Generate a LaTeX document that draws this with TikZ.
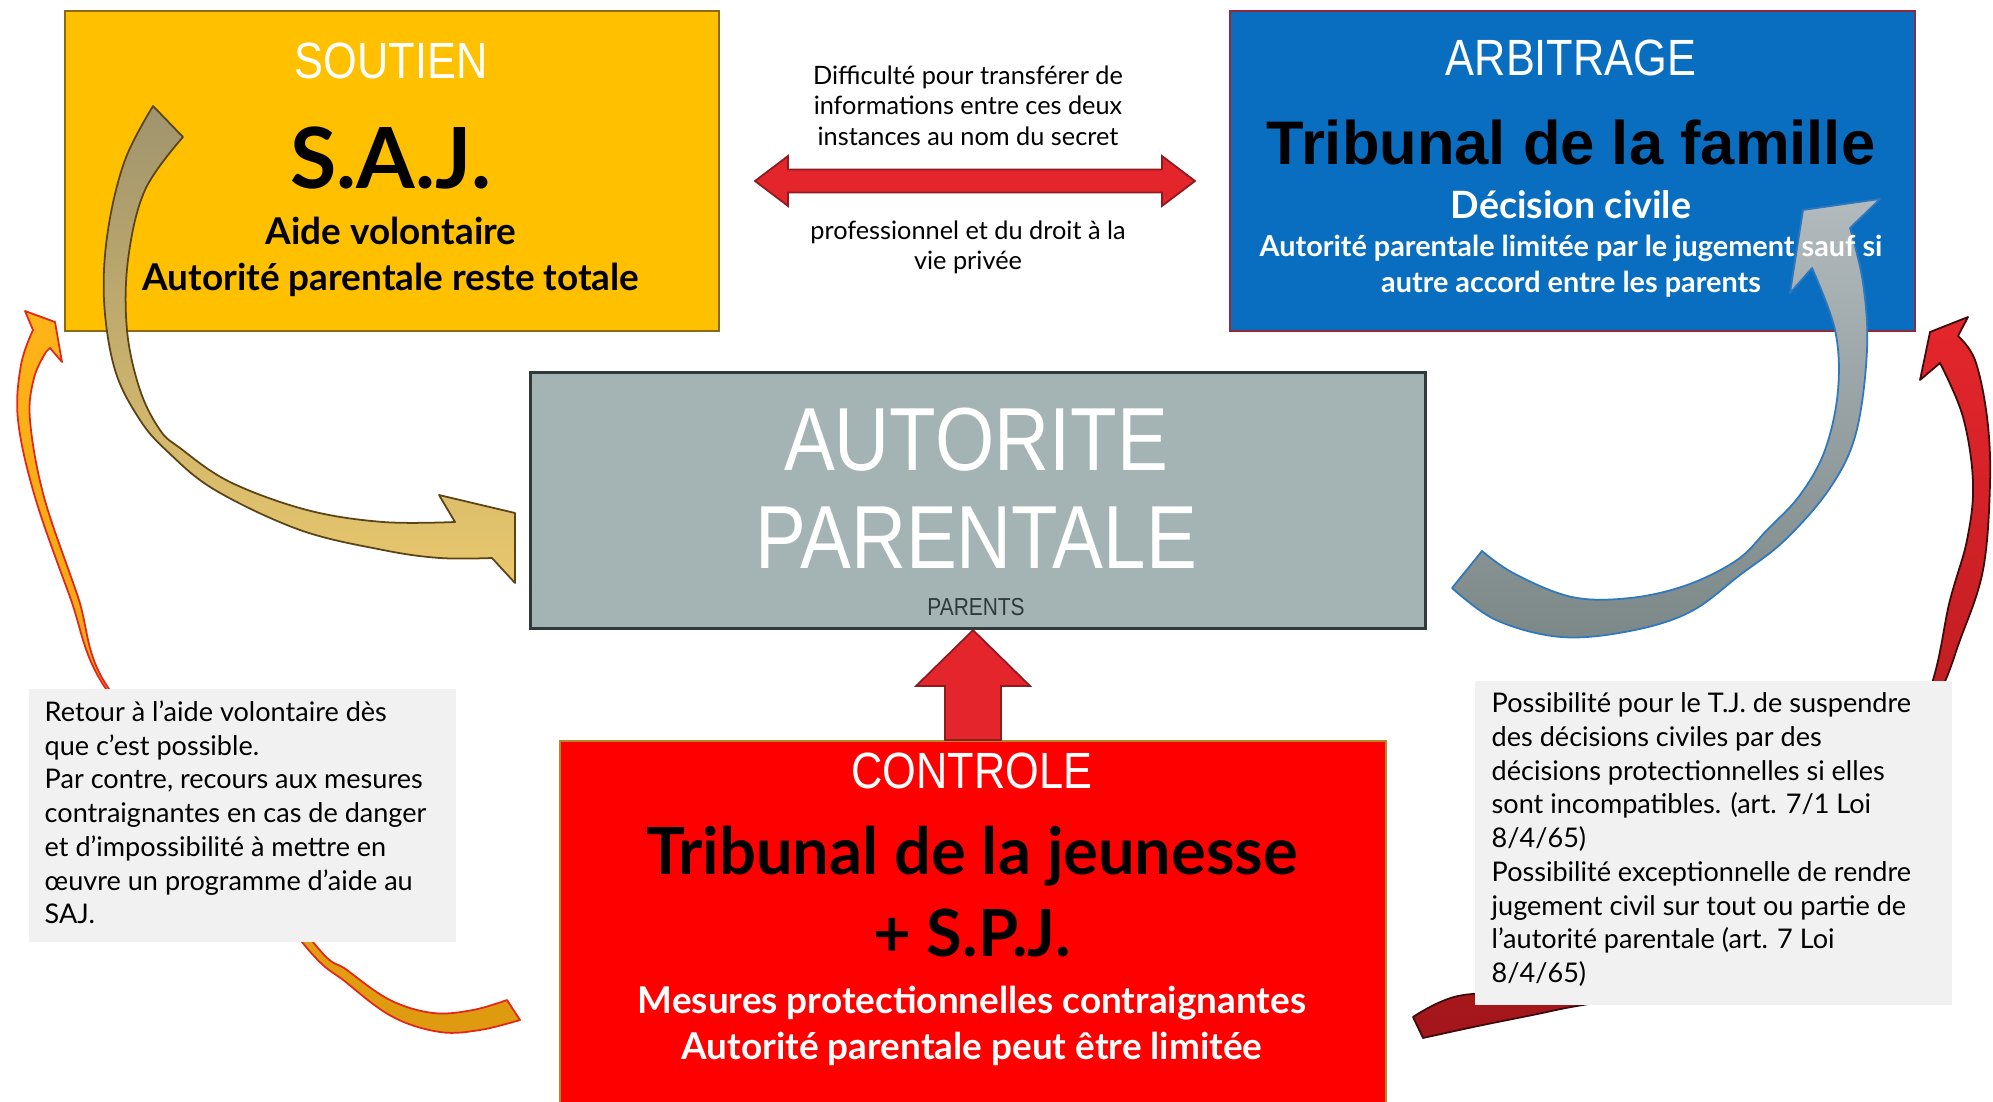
\documentclass[tikz,border=0pt]{standalone}
\usepackage{fontspec}
\setmainfont{Lato}
\newfontfamily\arialfont{Liberation Sans}
\newfontfamily\narrowfont[FakeStretch=0.85]{Liberation Sans}
\usetikzlibrary{calc}

\definecolor{sajyellow}{HTML}{FFC000}
\definecolor{sajline}{HTML}{8C6A0C}
\definecolor{famblue}{HTML}{0A6EC0}
\definecolor{famline}{HTML}{8E2A3C}
\definecolor{apgray}{HTML}{A4B3B3}
\definecolor{apline}{HTML}{303A3A}
\definecolor{tjred}{HTML}{FE0000}
\definecolor{tjline}{HTML}{B8862A}
\definecolor{notegray}{HTML}{F1F1F1}
\definecolor{arrowred}{HTML}{E4262C}
\definecolor{arrowline}{HTML}{8E1B20}
\definecolor{tantop}{HTML}{A0946E}
\definecolor{tanbot}{HTML}{E9C86C}
\definecolor{tanline}{HTML}{5B4316}
\definecolor{steeltop}{HTML}{B2BABE}
\definecolor{steelbot}{HTML}{7C8888}
\definecolor{steelline}{HTML}{2F78BE}
\definecolor{orangetop}{HTML}{FFB418}
\definecolor{orangebot}{HTML}{DE9A10}
\definecolor{orangeline}{HTML}{E2261A}
\definecolor{darkred}{HTML}{A3161B}
\definecolor{ribbonline}{HTML}{3A0C0C}

\begin{document}
\begin{tikzpicture}[x=0.1mm,y=-0.1mm,
  box/.style={draw, line width=0.6pt, anchor=north west, inner sep=0},
  tag/.style={anchor=base, text=white, font=\fontsize{14.5}{17}\narrowfont},
  title/.style={anchor=base, font=\fontsize{18.5}{22}\bfseries},
  sub/.style={anchor=base, font=\fontsize{10.5}{12}\bfseries},
  notebox/.style={fill=notegray, anchor=north west, inner sep=0},
  notetext/.style={anchor=north west, inner sep=0, align=left,
    font=\fontsize{7.7}{9.6}\selectfont},
  ribbon/.style={line width=0.5pt, line join=round},
  block/.style={fill=arrowred, draw=arrowline, line width=0.5pt, line join=miter}]

\useasboundingbox (0,0) rectangle (1993,1102);

% Boxes
\node[box, fill=sajyellow, draw=sajline, minimum width=65.4mm, minimum height=32mm] (saj) at (64,10) {};
\node[box, fill=famblue, draw=famline, minimum width=68.5mm, minimum height=32mm] (fam) at (1229,10) {};
\node[box, fill=apgray, draw=apline, line width=0.9pt, minimum width=89.5mm, minimum height=25.6mm] (auto) at (529,371) {};
\node[box, fill=tjred, draw=tjline, minimum width=82.6mm, minimum height=36.5mm] (ctrl) at (559,740) {};

% Arrow from S.A.J. to the parental authority
\draw[ribbon, top color=tantop, bottom color=tanbot, draw=tanline]
  (153,106) -- plot[smooth, tension=0.6] coordinates {(153,106) (125,160) (108,230) (104,300) (115,370) (140,420) (168,452) (215,490) (300,530) (383,550) (440,558) (492,558)}
  -- (515,583) -- (515,513) -- (439,495) -- (455,522)
  -- plot[smooth, tension=0.6] coordinates {(455,522) (383,522) (307,510) (230,482) (180,448) (160,430) (140,390) (127,330) (128,260) (145,190) (183,137)}
  -- cycle;

% Arrow from the parental authority to the family court
\draw[ribbon, top color=steeltop, bottom color=steelbot, draw=steelline]
  (1482,551) -- (1452,588)
  -- plot[smooth, tension=0.6] coordinates {(1452,588) (1496,620) (1561,637) (1630,631) (1690,612) (1740,575) (1785,540) (1830,488) (1856,433) (1867,350) (1863,283) (1850,228)}
  -- (1880,199) -- (1803,210) -- (1790,293) -- (1812,268)
  -- plot[smooth, tension=0.6] coordinates {(1812,268) (1835,330) (1838,390) (1825,450) (1800,495) (1767,530) (1737,560) (1687,585) (1630,598) (1572,597) (1515,574) (1482,551)}
  -- cycle;

% Arrow from the youth court back to the family court
\draw[ribbon, top color=arrowred, bottom color=darkred, draw=ribbonline]
  (1413,1017) -- (1423,1038)
  -- plot[smooth, tension=0.6] coordinates {(1423,1038) (1478,1026) (1556,1010) (1640,990) (1760,930) (1860,830) (1934,704) (1960,640) (1983,570) (1990,483) (1987,417) (1975,360) (1958,336)}
  -- (1968,317) -- (1930,332) -- (1920,380) -- (1940,363)
  -- plot[smooth, tension=0.6] coordinates {(1940,363) (1963,417) (1973,483) (1967,540) (1950,600) (1924,704) (1850,820) (1750,920) (1640,980) (1536,991) (1458,996) (1413,1017)}
  -- cycle;

% Arrow from the youth court back to S.A.J.
\draw[ribbon, top color=orangetop, bottom color=orangebot, draw=orangeline]
  (520,1020) -- plot[smooth, tension=0.6] coordinates {(520,1020) (480,1030) (440,1032) (393,1017) (347,983) (302,942) (200,800) (104,686) (70,597) (35,497) (18,420) (21,365) (33,330)}
  -- (25,311) -- (55,322) -- (62,362) -- (50,348) -- (46,352)
  -- plot[smooth, tension=0.6] coordinates {(46,352) (34,378) (30,420) (44,497) (78,597) (107,686) (210,800) (313,942) (347,970) (390,1000) (433,1013) (473,1010) (507,1000)}
  -- cycle;

% Double arrow between the two instances
\coordinate (dbl) at (975,181);
\draw[block, shift={(dbl)}] (-220,0) -- (-187,-25) -- (-187,-11.5) -- (187,-11.5) -- (187,-25)
  -- (220,0) -- (187,25) -- (187,11.5) -- (-187,11.5) -- (-187,25) -- cycle;
\node[anchor=north, inner sep=0, align=center, font=\fontsize{7.2}{8.65}\selectfont] (secret) at (968,65)
  {Difficulté pour transférer de\\informations entre ces deux\\instances au nom du secret};
\node[anchor=north, inner sep=0, align=center, font=\fontsize{7.2}{8.65}\selectfont] (vieprivee) at (968,220)
  {professionnel et du droit à la\\vie privée};

% Arrow from the youth court up to the parental authority
\draw[block, shift={(ctrl.north)}] (-28,0) -- (-28,-54) -- (-57,-54) -- (ctrl.north |- auto.south)
  -- (57,-54) -- (28,-54) -- (28,0) -- cycle;

% Texts of S.A.J.
\node[tag] (sajtag) at (391,79) {SOUTIEN};
\node[anchor=base, font=\fontsize{24}{28}\bfseries] (sajname) at (391,188) {S.A.J.};
\node[sub] (sajaide) at (391,244) {Aide volontaire};
\node[sub] (sajap) at (391,290) {Autorité parentale reste totale};

% Texts of the family court
\node[tag] (famtag) at (1571,76) {ARBITRAGE};
\node[anchor=base, font=\fontsize{17.5}{21}\arialfont\bfseries] (famname) at (1571,165) {Tribunal de la famille};
\node[anchor=base, text=white, font=\fontsize{10.7}{13}\bfseries] (famdec) at (1571,219) {Décision civile};
\node[anchor=base, text=white, font=\fontsize{8.2}{9}\bfseries] (famap) at (1571,257) {Autorité parentale limitée par le jugement sauf si};
\node[anchor=base, text=white, font=\fontsize{8.2}{9}\bfseries] (famacc) at (1571,292) {autre accord entre les parents};

% Texts of the parental authority
\node[anchor=base, text=white, font=\fontsize{25.5}{30}\narrowfont] (autoa) at (976,470) {AUTORITE};
\node[anchor=base, text=white, font=\fontsize{25.5}{30}\narrowfont] (autob) at (976,568) {PARENTALE};
\node[anchor=base, text=apline, font=\fontsize{7}{8}\narrowfont] (parents) at (976,615) {PARENTS};

% Texts of the youth court
\node[tag] (ctrltag) at (972,788) {CONTROLE};
\node[title] (ctrlname) at (972,874) {Tribunal de la jeunesse};
\node[title] (ctrlspj) at (972,956) {+ S.P.J.};
\node[sub, text=white] (ctrlmes) at (972,1013) {Mesures protectionnelles contraignantes};
\node[sub, text=white] (ctrlap) at (972,1059) {Autorité parentale peut être limitée};

% Notes
\node[notebox, minimum width=42.7mm, minimum height=25.3mm] (retour) at (28,688) {};
\node[notetext] (retourtext) at ([xshift=1.6mm, yshift=-1.2mm]retour.north west)
  {Retour à l’aide volontaire dès\\que c’est possible.\\Par contre, recours aux mesures\\contraignantes en cas de danger\\et d’impossibilité à mettre en\\œuvre un programme d’aide au\\SAJ.};
\node[notebox, minimum width=47.7mm, minimum height=32.4mm] (possib) at (1474,680) {};
\node[notetext] (possibtext) at ([xshift=1.7mm, yshift=-1.2mm]possib.north west)
  {Possibilité pour le T.J. de suspendre\\des décisions civiles par des\\décisions protectionnelles si elles\\sont incompatibles. (art. 7/1 Loi\\8/4/65)\\Possibilité exceptionnelle de rendre\\jugement civil sur tout ou partie de\\l’autorité parentale (art. 7 Loi\\8/4/65)};

\end{tikzpicture}
\end{document}
